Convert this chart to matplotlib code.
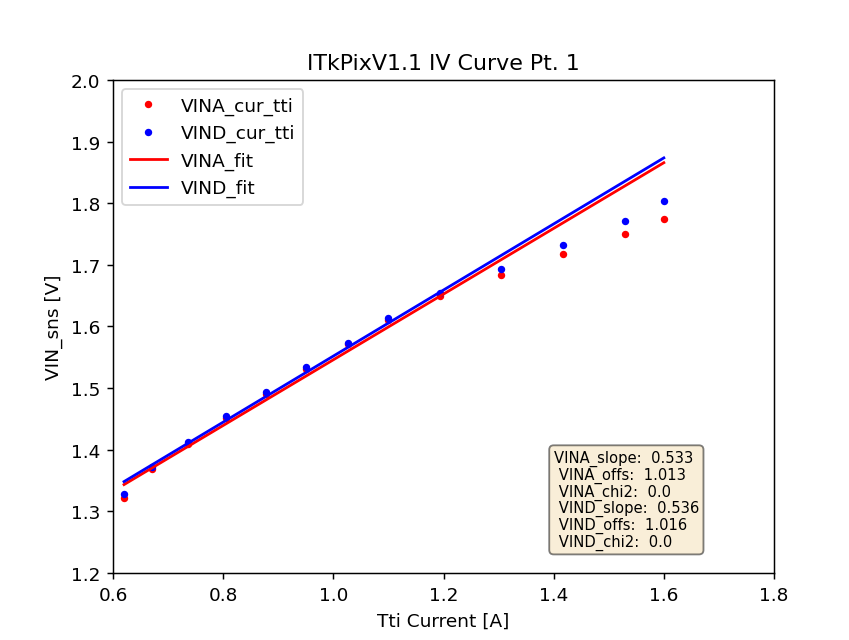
import matplotlib
matplotlib.use("Agg")
import matplotlib.pyplot as plt
import numpy as np

current = [0.620, 0.671, 0.737, 0.806, 0.877, 0.951, 1.027, 1.100, 1.193, 1.305, 1.417, 1.530, 1.600]
vina = [1.322, 1.369, 1.409, 1.451, 1.490, 1.531, 1.571, 1.611, 1.650, 1.684, 1.717, 1.750, 1.774]
vind = [1.328, 1.372, 1.413, 1.454, 1.494, 1.534, 1.574, 1.614, 1.655, 1.694, 1.733, 1.772, 1.804]

vina_slope, vina_offs, vina_chi2 = 0.533, 1.013, 0.0
vind_slope, vind_offs, vind_chi2 = 0.536, 1.016, 0.0

dpi = 133
fig = plt.figure(figsize=(849 / dpi, 641 / dpi), dpi=dpi)
ax = fig.add_axes([113 / 849, 1 - 574 / 641, (774 - 113) / 849, (574 - 81) / 641])

x = np.array(current)
ax.plot(current, vina, '.', color='r', label='VINA_cur_tti')
ax.plot(current, vind, '.', color='b', label='VIND_cur_tti')
ax.plot(x, vina_slope * x + vina_offs, '-', color='r', label='VINA_fit')
ax.plot(x, vind_slope * x + vind_offs, '-', color='b', label='VIND_fit')

ax.set_xlim(0.6, 1.8)
ax.set_ylim(1.2, 2.0)
ax.set_xlabel('Tti Current [A]')
ax.set_ylabel('VIN_sns [V]')
ax.set_title('ITkPixV1.1 IV Curve Pt. 1')
ax.legend(loc='upper left')

txt = (f"VINA_slope:  {vina_slope:.3f}\n VINA_offs:  {vina_offs:.3f}\n VINA_chi2:  {vina_chi2}\n"
       f" VIND_slope:  {vind_slope:.3f}\n VIND_offs:  {vind_offs:.3f}\n VIND_chi2:  {vind_chi2}")
ax.text(1.4, 1.4, txt, fontsize=8, va='top', ha='left', linespacing=1.05,
        bbox=dict(boxstyle='round', facecolor='wheat', alpha=0.5))

fig.savefig('out.png', dpi=dpi)
